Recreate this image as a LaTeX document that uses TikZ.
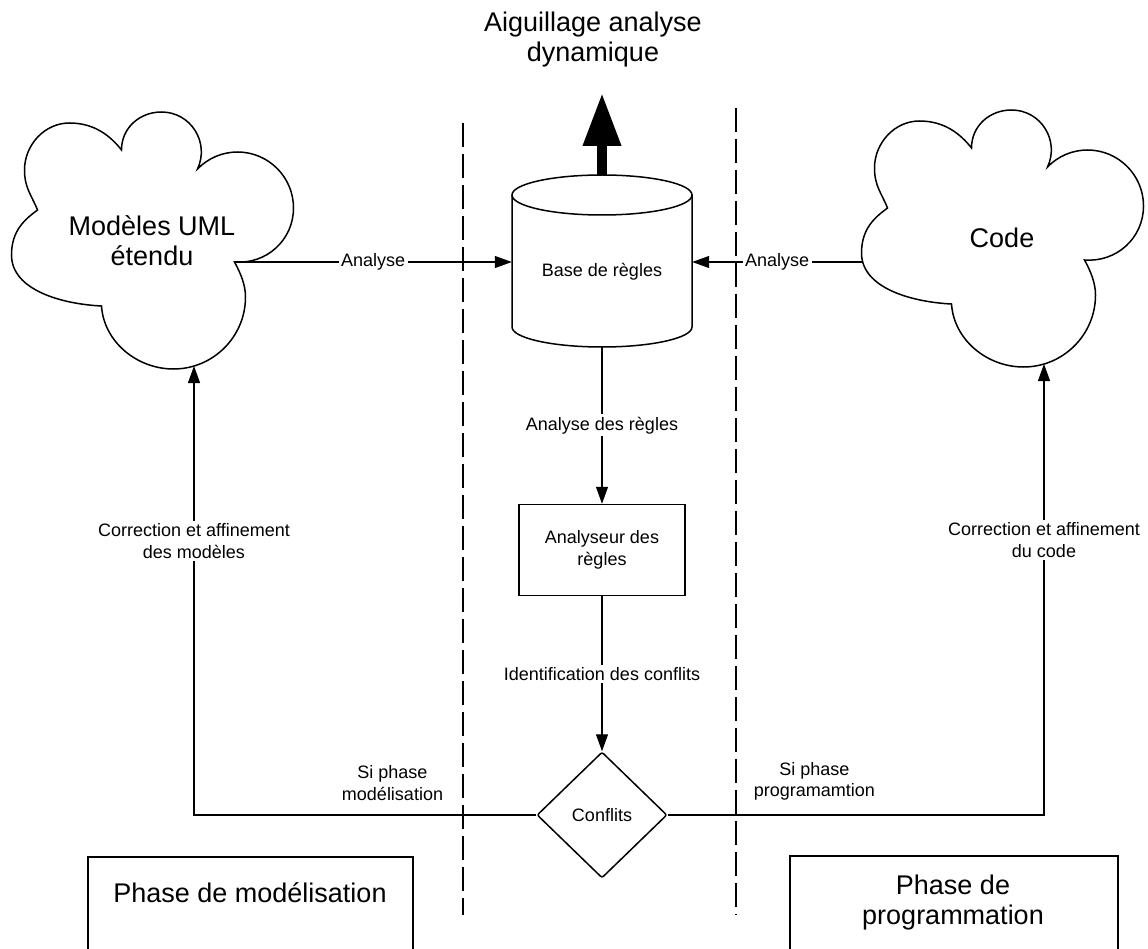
\documentclass[tikz,border=0pt]{standalone}
\usepackage{fontspec}
\setmainfont{Liberation Sans}
\usetikzlibrary{arrows.meta,shapes.geometric}
\tikzset{
  conn/.style={line width=1.1pt, draw=black},
  arr/.style={conn, -{Triangle[length=17pt,width=12pt]}},
  lbl/.style={fill=white, inner sep=2.5pt, font=\fontsize{18pt}{21.5pt}\selectfont, align=center},
  small/.style={font=\fontsize{18pt}{21.5pt}\selectfont, align=center},
  big/.style={font=\fontsize{27pt}{30pt}\selectfont, align=center},
  shapeline/.style={line width=1.5pt},
  sepline/.style={line width=1.8pt, dash pattern=on 24pt off 7pt},
  cloudpic/.pic={
    \draw[shapeline] (-30,-90)
      .. controls (-30,-112) and (-12,-128) .. (10,-128)
      .. controls (39.3,-128) and (58.4,-97.5) .. (46,-71)
      .. controls (56.5,-81.8) and (70.9,-88) .. (86,-88)
      .. controls (116.9,-88) and (142,-62.9) .. (142,-32)
      .. controls (142,0) and (115,24.5) .. (83,22)
      .. controls (89,33) and (94,44.7) .. (94,57)
      .. controls (94,96.7) and (61.7,129) .. (22,129)
      .. controls (-14.4,129) and (-47.6,102) .. (-50,66)
      .. controls (-90,64) and (-140,50) .. (-140,15)
      .. controls (-140,-10) and (-126,-21) .. (-114,-30)
      .. controls (-120,-45) and (-127,-52) .. (-127,-70)
      .. controls (-127,-95) and (-107,-117) .. (-82,-117)
      .. controls (-57,-117) and (-41,-104) .. (-30,-90) -- cycle;
  }
}
\begin{document}
\begin{tikzpicture}[x=1pt,y=-1pt]
\clip (0,0) rectangle (1148,949);
\fill[white] (0,0) rectangle (1148,949);

% title and thick arrow
\node[big] (title) at (593,40) {Aiguillage analyse\\dynamique};

% separators
\draw[sepline] (463,123) -- (463,915);
\draw[sepline] (736,108) -- (736,915);

% clouds
\pic at (151.5,240) {cloudpic};
\pic at (1001.5,238) {cloudpic};
\node[big] (uml) at (152,241) {Modèles UML\\étendu};
\node[big] (code) at (1002,238) {Code};
\coordinate (cLe) at (234.5,262);
\coordinate (cLb) at (194,366);
\coordinate (cRw) at (862,262);
\coordinate (cRb) at (1044,364);

% cylinder
\draw[shapeline] (602,195) ellipse [x radius=90pt, y radius=20pt];
\draw[shapeline] (512,195) -- (512,327) .. controls (512,338) and (552.3,347) .. (602,347)
  .. controls (651.7,347) and (692,338) .. (692,327) -- (692,195);
\node[minimum width=180pt, minimum height=172pt, inner sep=0] (base) at (602,261) {};
\node[small] (basetxt) at (602,272) {Base de règles};

\coordinate (tip) at (602,93);
\draw[line width=10pt, -{Triangle[length=53pt,width=36pt]}] (base.north) -- (tip);

% rule analyser and conflicts
\node[draw, shapeline, small, minimum width=166pt, minimum height=91pt, inner sep=0] (ana) at (602,550) {Analyseur des\\règles};
\node[draw, shapeline, diamond, rounded corners=2pt, minimum width=130pt, minimum height=126pt, inner sep=0, small] (conf) at (602,815) {Conflits};

% connectors
\draw[arr] (cLe) -- node[lbl] {Analyse} (cLe -| base.west);
\draw[arr] (cRw) -- node[lbl] {Analyse} (cRw -| base.east);
\draw[arr] (base.south) -- node[lbl] {Analyse des règles} (ana.north);
\draw[arr] (ana.south) -- node[lbl] {Identification des conflits} (conf.north);
\draw[arr] (conf.west) -- node[small, pos=0.42, anchor=south, inner sep=0, yshift=14pt] {Si phase\\modélisation} (conf.west -| cLb)
  -- node[lbl, pos=0.61] {Correction et affinement\\des modèles} (cLb);
\draw[arr] (conf.east) -- node[small, pos=0.39, anchor=south, inner sep=0, yshift=14pt] {Si phase\\programamtion} (conf.east -| cRb)
  -- node[lbl, pos=0.61] {Correction et affinement\\du code} (cRb);

% phase boxes
\draw[shapeline] (88,857) rectangle (413,960);
\node[big] (phm) at (250,893) {Phase de modélisation};
\draw[shapeline] (790,856) rectangle (1118,960);
\node[big] (php) at (953,903) {Phase de\\programmation};
\end{tikzpicture}
\end{document}
